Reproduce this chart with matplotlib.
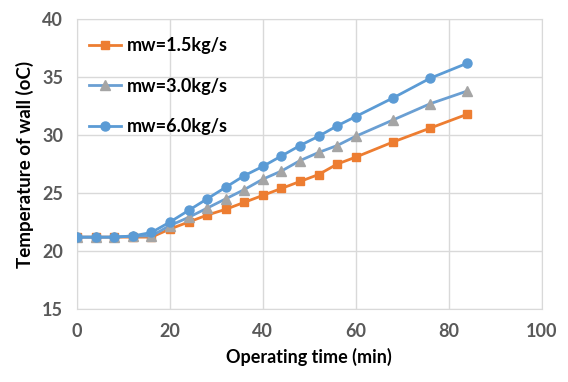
import matplotlib
matplotlib.use("Agg")
import matplotlib.pyplot as plt

time_min = [0, 4, 8, 12, 16, 20, 24, 28, 32, 36, 40, 44, 48, 52, 56, 60, 68, 76, 84]
temp_15 = [21.2, 21.2, 21.2, 21.2, 21.2, 21.9, 22.5, 23.1, 23.6, 24.2, 24.8, 25.4, 26.0, 26.6, 27.5, 28.1, 29.4, 30.6, 31.8]
temp_30 = [21.2, 21.2, 21.2, 21.3, 21.3, 22.2, 22.9, 23.7, 24.5, 25.3, 26.2, 26.9, 27.8, 28.5, 29.1, 29.9, 31.3, 32.7, 33.8]
temp_60 = [21.2, 21.2, 21.2, 21.3, 21.6, 22.5, 23.5, 24.5, 25.5, 26.5, 27.3, 28.2, 29.1, 29.9, 30.8, 31.6, 33.2, 34.9, 36.2]
labels = ["mw=1.5kg/s", "mw=3.0kg/s", "mw=6.0kg/s"]
x_ticks = [0, 20, 40, 60, 80, 100]
y_ticks = [15, 20, 25, 30, 35, 40]

plt.rcParams['font.family'] = ['Lato', 'DejaVu Sans']

fig = plt.figure(figsize=(5.68, 3.82), dpi=100)
ax = fig.add_axes([0.1356, 0.191, 0.818, 0.759])

ax.plot(time_min, temp_15, color='#ED7D31', marker='s', markersize=6, lw=2,
        label=labels[0], zorder=3)
ax.plot(time_min, temp_30, color='#6A9FD3', marker='^', markersize=6.5, lw=2,
        markerfacecolor='#A5A5A5', markeredgecolor='#A5A5A5', label=labels[1], zorder=3)
ax.plot(time_min, temp_60, color='#5B9BD5', marker='o', markersize=6.5, lw=2,
        label=labels[2], zorder=4)

ax.set_xlim(0, 100)
ax.set_ylim(15, 40)
ax.set_xticks(x_ticks)
ax.set_yticks(y_ticks)
ax.grid(True, color='#D9D9D9', lw=1)
ax.set_axisbelow(True)
for s in ax.spines.values():
    s.set_color('#D9D9D9')
ax.tick_params(length=0, labelsize=13, colors='#595959', pad=10)
for lab in ax.get_xticklabels() + ax.get_yticklabels():
    lab.set_fontweight('bold')

ax.set_xlabel("Operating time (min)", fontsize=13, fontweight='bold', labelpad=6)
ax.set_ylabel("Temperature of wall (oC)", fontsize=13.5, fontweight='bold', labelpad=6)

leg = ax.legend(loc='upper left', bbox_to_anchor=(-0.014, 1.0), frameon=False,
                prop={'size': 13, 'weight': 'bold'}, handlelength=1.8,
                handletextpad=0.3, labelspacing=1.3, borderaxespad=0.6)

fig.savefig("out.png", dpi=100)
